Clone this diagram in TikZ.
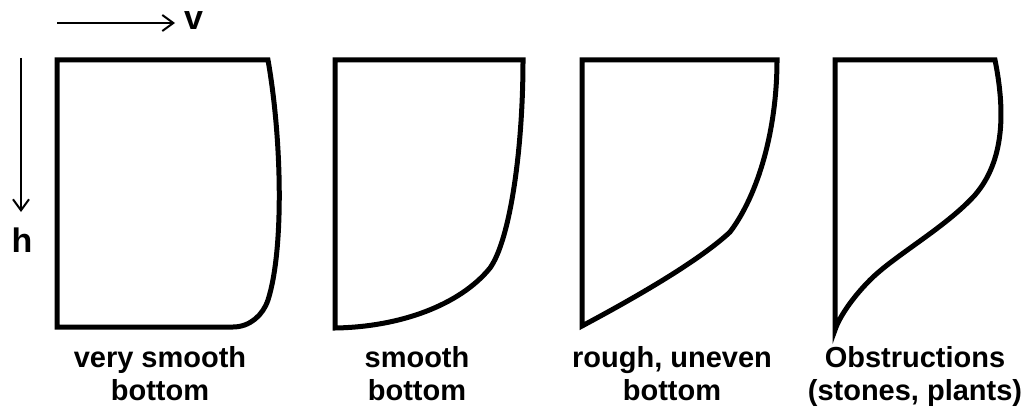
\documentclass[tikz,border=0pt]{standalone}
\usepackage{fontspec}
\setmainfont{Liberation Sans}
\usetikzlibrary{arrows.meta,positioning}

\begin{document}
\begin{tikzpicture}[x=1pt, y=-1pt,
  profile/.style={line width=5pt, line join=miter},
  axis/.style={line width=2pt, -{Straight Barb[length=11pt,width=16pt]}},
  axislabel/.style={font=\fontsize{34}{38}\selectfont\bfseries, inner sep=0pt},
  caption/.style={font=\fontsize{29}{33}\selectfont\bfseries, align=center, anchor=north, inner sep=0pt}]
\useasboundingbox (0,0) rectangle (1035,412);

% axes
\coordinate (vtail) at (57,23);
\coordinate (vhead) at (175,23);
\draw[axis] (vtail) -- (vhead);
\node[axislabel, anchor=base west] (vlabel) at (184,30) {v};
\coordinate (htail) at (21,58);
\coordinate (hhead) at (21,212);
\draw[axis] (htail) -- (hhead);
\node[axislabel, anchor=base] (hlabel) at (22,252) {h};

% very smooth bottom
\draw[profile] (57,60) -- (268,60) .. controls (282,140) and (284,250) .. (268,300)
  .. controls (263,315) and (250,327) .. (233,327) -- (57,327) -- cycle;
% smooth bottom
\draw[profile] (335,60) -- (523,60) .. controls (523,150) and (510,240) .. (490,268)
  .. controls (460,305) and (400,327) .. (335,328) -- cycle;
% rough, uneven bottom
\draw[profile] (582,60) -- (777,60) .. controls (777,130) and (758,195) .. (730,232)
  .. controls (700,260) and (640,295) .. (582,326) -- cycle;
% obstructions
\draw[profile] (835,60) -- (995,60) .. controls (1005,110) and (1005,160) .. (975,195)
  .. controls (945,228) and (895,255) .. (870,280)
  .. controls (855,295) and (840,315) .. (835,330) -- cycle;

% captions
\node[caption] (cap1) at (160,346.5) {very smooth\\bottom};
\node[caption] (cap2) at (417,346.5) {smooth\\bottom};
\node[caption] (cap3) at (672,346.5) {rough, uneven\\bottom};
\node[caption] (cap4) at (915,346.5) {Obstructions\\(stones, plants)};
\end{tikzpicture}
\end{document}
